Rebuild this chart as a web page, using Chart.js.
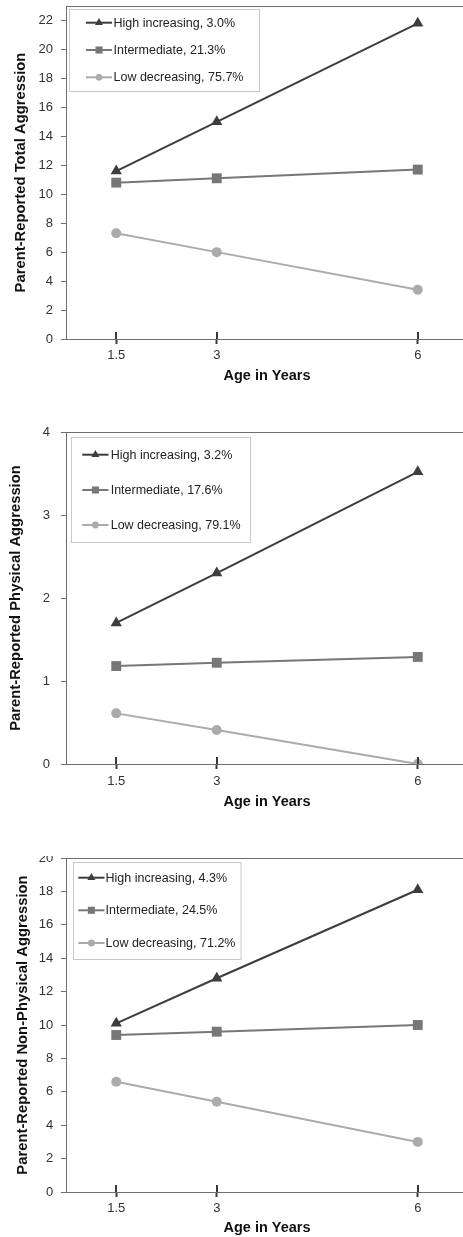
<!DOCTYPE html>
<html>
<head>
<meta charset="utf-8">
<script src="https://cdn.jsdelivr.net/npm/chart.js@4.4.1/dist/chart.umd.min.js"></script>
<style>
  html, body { margin: 0; padding: 0; background: #fff; width: 463px; height: 1237px; overflow: hidden; position: relative; }
  .panel { position: absolute; left: 0; width: 475px; overflow: hidden; }
  .panel canvas { position: absolute; left: 0; }
</style>
</head>
<body>
<div class="panel" style="top:0;height:420px"><canvas id="total" width="475" height="413" style="top:-14px"></canvas></div>
<div class="panel" style="top:420px;height:436px"><canvas id="physical" width="475" height="412" style="top:-8px"></canvas></div>
<div class="panel" style="top:856px;height:381px"><canvas id="nonphysical" width="475" height="414" style="top:-18px"></canvas></div>
<script>
// Ages at assessment (x axis)
const ages = [1.5, 3, 6];
const ageTicks = [1.5, 3, 6];

// Trajectory group names
const groupNames = ['High increasing', 'Intermediate', 'Low decreasing'];

// Total aggression
const totalHigh = [11.6, 15.0, 21.8];
const totalMid  = [10.8, 11.1, 11.7];
const totalLow  = [7.3, 6.0, 3.4];
const totalShares = ['3.0%', '21.3%', '75.7%'];
const totalTicks = [0, 2, 4, 6, 8, 10, 12, 14, 16, 18, 20, 22];

// Physical aggression
const physHigh = [1.7, 2.3, 3.52];
const physMid  = [1.18, 1.22, 1.29];
const physLow  = [0.61, 0.41, 0.0];
const physShares = ['3.2%', '17.6%', '79.1%'];
const physTicks = [0, 1, 2, 3, 4];

// Non-physical aggression
const nonHigh = [10.1, 12.8, 18.1];
const nonMid  = [9.4, 9.6, 10.0];
const nonLow  = [6.6, 5.4, 3.0];
const nonShares = ['4.3%', '24.5%', '71.2%'];
const nonTicks = [0, 2, 4, 6, 8, 10, 12, 14, 16, 18, 20];

const FONT = '"Liberation Sans", Arial, sans-serif';
const AXIS = '#6e6e6e';
const styles = [
  { color: '#3d3d3d', pointStyle: 'triangle', radius: 6.5, legendRadius: 4.6 },
  { color: '#777777', pointStyle: 'rect', radius: 7, legendRadius: 5 },
  { color: '#ababab', pointStyle: 'circle', radius: 5, legendRadius: 3.4 }
];

// Top frame line and the inner half of the x tick marks
const framePlugin = {
  id: 'frame',
  afterDraw(chart) {
    const { ctx, chartArea: { left, right, top, bottom }, scales: { x } } = chart;
    ctx.save();
    ctx.strokeStyle = AXIS;
    ctx.lineWidth = 1;
    ctx.beginPath();
    ctx.moveTo(left, Math.round(top) + 0.5);
    ctx.lineTo(right, Math.round(top) + 0.5);
    ctx.stroke();
    ctx.strokeStyle = '#3a3a3a';
    ctx.lineWidth = 2;
    ctx.beginPath();
    x.ticks.forEach(t => {
      const px = Math.round(x.getPixelForValue(t.value));
      ctx.moveTo(px, bottom - 7);
      ctx.lineTo(px, bottom);
    });
    ctx.stroke();
    ctx.restore();
  }
};

// Boxed legend inside the plot area
const boxLegend = {
  id: 'boxLegend',
  afterDraw(chart, args, opts) {
    const { ctx, chartArea } = chart;
    const bx = opts.left, by = chartArea.top + opts.top;
    ctx.save();
    ctx.fillStyle = '#fff';
    ctx.fillRect(bx, by, opts.width, opts.height);
    ctx.strokeStyle = '#c9c9c9';
    ctx.lineWidth = 1;
    ctx.strokeRect(Math.round(bx) + 0.5, Math.round(by) + 0.5, opts.width, opts.height);
    ctx.font = '12.5px ' + FONT;
    ctx.textBaseline = 'middle';
    ctx.textAlign = 'left';
    chart.data.datasets.forEach((ds, i) => {
      const y = by + opts.rows[i];
      const st = styles[i];
      ctx.strokeStyle = st.color;
      ctx.lineWidth = 2;
      ctx.beginPath();
      ctx.moveTo(opts.lineFrom, y);
      ctx.lineTo(opts.lineTo, y);
      ctx.stroke();
      ctx.fillStyle = st.color;
      Chart.helpers.drawPoint(ctx, { pointStyle: st.pointStyle, radius: st.legendRadius, rotation: 0, borderWidth: 0 }, (opts.lineFrom + opts.lineTo) / 2, y);
      ctx.fillStyle = '#222';
      ctx.fillText(ds.label, opts.textX, y + 0.5);
    });
    ctx.restore();
  }
};

function series(values, i, share) {
  const st = styles[i];
  return {
    label: groupNames[i] + ', ' + share,
    data: ages.map((a, k) => ({ x: a, y: values[k] })),
    borderColor: st.color,
    backgroundColor: st.color,
    borderWidth: 2,
    pointStyle: st.pointStyle,
    pointRadius: st.radius,
    pointBorderWidth: 0,
    pointBackgroundColor: st.color,
    tension: 0
  };
}

function buildChart(id, cfg) {
  return new Chart(document.getElementById(id), {
    type: 'line',
    data: {
      datasets: [
        series(cfg.high, 0, cfg.shares[0]),
        series(cfg.mid, 1, cfg.shares[1]),
        series(cfg.low, 2, cfg.shares[2])
      ]
    },
    options: {
      responsive: false,
      animation: false,
      events: [],
      layout: { padding: { left: 0, right: 3, top: 20, bottom: 0 } },
      plugins: {
        legend: { display: false },
        tooltip: { enabled: false },
        boxLegend: cfg.legend
      },
      scales: {
        x: {
          type: 'linear',
          min: 0.75,
          max: 6.75,
          afterBuildTicks: s => { s.ticks = ageTicks.map(v => ({ value: v })); },
          afterFit: s => { s.height = 60; },
          grid: { drawOnChartArea: false, drawTicks: true, tickLength: 5, tickWidth: 2, tickColor: '#3a3a3a', color: AXIS },
          border: { color: AXIS, width: 1 },
          ticks: { padding: cfg.xPad, color: '#333', font: { family: FONT, size: 13 }, callback: v => String(v), maxRotation: 0 },
          title: { display: true, text: 'Age in Years', color: '#111', font: { family: FONT, size: 14.5, weight: 'bold' }, padding: { top: 0, bottom: cfg.xTitlePad } }
        },
        y: {
          min: 0,
          max: cfg.yMax,
          afterBuildTicks: s => { s.ticks = cfg.yTicks.map(v => ({ value: v })); },
          afterFit: s => { s.width = 66; },
          grid: { drawOnChartArea: false, drawTicks: true, tickLength: 5, tickWidth: 1, tickColor: AXIS, color: AXIS },
          border: { color: AXIS, width: 1 },
          ticks: { padding: cfg.yPad, color: '#333', font: { family: FONT, size: 13 }, callback: v => String(v) },
          title: { display: true, text: cfg.yTitle, color: '#111', font: { family: FONT, size: 14.8, weight: 'bold' }, padding: { top: cfg.yTitlePad, bottom: 0 } }
        }
      }
    },
    plugins: [framePlugin, boxLegend]
  });
}

buildChart('total', {
  high: totalHigh, mid: totalMid, low: totalLow, shares: totalShares,
  yMax: 23, yTicks: totalTicks, yTitle: 'Parent-Reported Total Aggression',
  xPad: 4, xTitlePad: 14.6, yPad: 8, yTitlePad: 11.8,
  legend: { left: 69, top: 3.3, width: 190, height: 82, rows: [13.4, 40.7, 68], lineFrom: 86, lineTo: 112, textX: 113.5 }
});

buildChart('physical', {
  high: physHigh, mid: physMid, low: physLow, shares: physShares,
  yMax: 4, yTicks: physTicks, yTitle: 'Parent-Reported Physical Aggression',
  xPad: 5, xTitlePad: 13.6, yPad: 11, yTitlePad: 7.3,
  legend: { left: 71, top: 5.3, width: 179, height: 105, rows: [17.4, 52.7, 87.7], lineFrom: 82.3, lineTo: 108.5, textX: 110.7 }
});

buildChart('nonphysical', {
  high: nonHigh, mid: nonMid, low: nonLow, shares: nonShares,
  yMax: 20, yTicks: nonTicks, yTitle: 'Parent-Reported Non-Physical Aggression',
  xPad: 4, xTitlePad: 15.5, yPad: 7.7, yTitlePad: 14.3,
  legend: { left: 72.5, top: 4.3, width: 167.5, height: 97, rows: [15.4, 48, 80.7], lineFrom: 78.3, lineTo: 104.5, textX: 105.5 }
});
</script>
</body>
</html>
